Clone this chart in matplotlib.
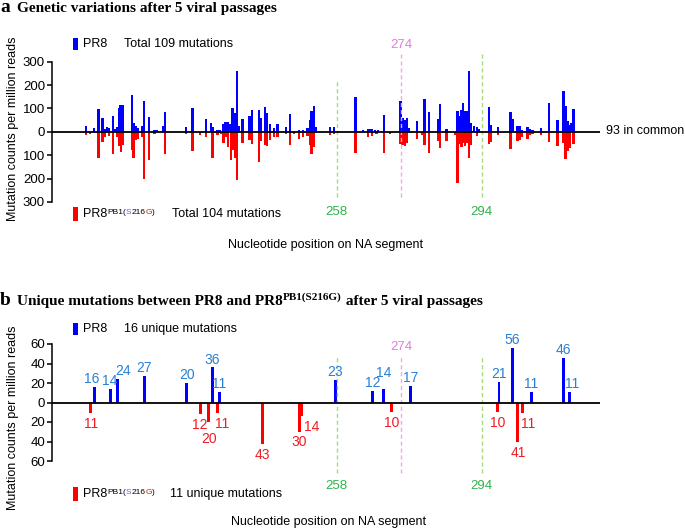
import numpy as np
import matplotlib
matplotlib.use('Agg')
import matplotlib.pyplot as plt
from matplotlib.patches import Rectangle

# ---- data: panel a (all mutations, counts per million reads) ----
A_BLUE_POS = [195.8, 197.7, 198.8, 199.8, 200.3, 200.9, 201.4, 202.4, 202.9, 203.4,
              203.9, 204.3, 204.8, 207.1, 207.6, 208.2, 208.7, 209.7, 210.2, 211.4,
              212.8, 213.3, 215.0, 215.4, 220.6, 222.2, 225.6, 226.8, 227.3, 228.4,
              228.9, 229.9, 230.4, 231.0, 231.6, 232.1, 232.6, 233.2, 233.7, 234.6,
              236.4, 237.0, 238.7, 239.2, 240.2, 240.7, 241.4, 242.4, 243.3, 245.4,
              246.4, 248.6, 249.6, 250.8, 251.4, 251.8, 252.3, 252.7, 256.3, 257.4,
              262.7, 264.6, 265.8, 266.3, 266.8, 267.5, 268.3, 269.7, 273.9, 274.4,
              274.9, 275.4, 276.0, 277.9, 279.8, 281.0, 283.2, 283.7, 285.3, 288.0,
              288.5, 289.0, 289.4, 289.9, 290.4, 290.9, 291.4, 292.1, 292.8, 293.3,
              295.9, 296.3, 298.1, 301.2, 301.7, 302.9, 303.5, 304.0, 305.4, 306.0,
              306.6, 308.7, 310.8, 312.8, 314.3, 314.8, 315.3, 315.8, 316.3, 316.8]
A_BLUE_VAL = [23, 16, 99, 59, 13, 20, 16, 69, 13, 21,
              101, 113, 116, 159, 37, 26, 16, 23, 130, 63,
              9, 9, 26, 84, 20, 104, 54, 36, 20, 10,
              10, 33, 40, 40, 34, 101, 80, 261, 26, 54,
              66, 94, 94, 59, 106, 80, 34, 16, 33, 20,
              76, 7, 6, 16, 51, 90, 109, 19, 20, 20,
              149, 6, 11, 13, 13, 10, 9, 70, 130, 59,
              49, 59, 16, 47, 141, 87, 56, 120, 11, 91,
              69, 94, 123, 91, 90, 259, 37, 23, 19, 14,
              106, 30, 20, 84, 54, 26, 26, 7, 20, 13,
              10, 16, 123, 51, 173, 111, 47, 30, 37, 99]

A_RED_POS = [195.8, 196.7, 198.8, 199.8, 200.3, 201.4, 202.4, 203.4, 203.9, 204.4,
             204.8, 207.1, 207.5, 208.2, 208.7, 209.7, 210.2, 211.4, 212.8, 215.4,
             220.6, 222.2, 224.0, 225.6, 227.2, 228.4, 229.4, 229.9, 230.4, 231.0,
             231.7, 232.2, 232.7, 233.2, 234.6, 236.4, 237.0, 238.7, 239.2, 240.2,
             240.7, 241.4, 242.4, 243.3, 245.4, 246.4, 247.4, 248.6, 249.6, 250.8,
             251.4, 251.8, 252.3, 256.3, 257.4, 262.7, 265.8, 266.8, 267.9, 269.7,
             271.2, 273.9, 274.4, 275.0, 275.4, 277.9, 279.3, 279.8, 281.0, 283.2,
             283.7, 285.3, 287.5, 288.0, 288.5, 289.0, 289.4, 289.9, 290.4, 290.9,
             291.4, 292.8, 295.9, 296.3, 298.1, 301.2, 302.9, 303.5, 304.0, 305.4,
             306.0, 306.6, 308.7, 310.8, 312.8, 314.3, 314.8, 315.3, 315.8, 316.8]
A_RED_VAL = [14, 10, 113, 44, 20, 17, 96, 20, 59, 87,
             56, 77, 113, 34, 31, 20, 203, 121, 9, 96,
             9, 84, 13, 24, 113, 13, 9, 49, 20, 63,
             120, 77, 113, 207, 49, 34, 53, 127, 41, 56,
             60, 34, 20, 24, 10, 56, 9, 30, 20, 17,
             56, 96, 63, 13, 9, 89, 24, 17, 9, 89,
             11, 53, 56, 60, 49, 31, 13, 56, 91, 41,
             70, 39, 13, 220, 53, 63, 49, 59, 49, 110,
             56, 17, 53, 44, 13, 74, 41, 34, 20, 31,
             13, 9, 13, 44, 59, 49, 117, 84, 70, 53]

# ---- data: panel b (unique mutations) ----
B_BLUE_POS = [197.9, 201.9, 203.6, 210.2, 220.8, 227.1, 228.8, 257.7,
              267.0, 269.6, 276.3, 298.3, 301.7, 306.3, 314.3, 315.9]
B_BLUE_VAL = [16, 14, 24, 27, 20, 36, 11, 23, 12, 14, 17, 21, 56, 11, 46, 11]
B_RED_POS = [196.9, 224.1, 226.2, 228.4, 239.6, 248.8, 249.4, 271.6, 298.0, 303.0, 304.1]
B_RED_VAL = [11, 12, 20, 11, 43, 30, 14, 10, 10, 41, 11]

MARKS_GREEN = [258, 294]
MARK_PINK = 274

# label nudges (points) to keep the numbers in panel b apart
BLUE_NUDGE = {0: (-2.5, 0), 1: (-1, 0), 2: (4, 0), 9: (0, 6), 15: (2, 0)}
RED_NUDGE = {2: (0, -4.5), 3: (3, 0), 6: (7, 0), 10: (4, 0)}

W, H = 685, 530
BLUE = '#0000ff'
RED = '#ff0000'
LBL_BLUE = '#2a7fd4'
LBL_RED = '#ee1c25'
GREEN_LINE = '#a8dc78'
GREEN_TXT = '#2fb34f'
PINK_LINE = '#f2a6ee'
PINK_TXT = '#e07fe0'
SANS = 'Liberation Sans'
SERIF = 'Liberation Serif'

plt.rcParams['font.family'] = SANS


def fx(px):
    return px / W


def fy(py):
    return 1 - py / H


def chain(ax, x, y, pieces, family=SANS, weight='normal'):
    """draw text pieces one after another; pieces = (text, size, colour, rise)"""
    base = ax.annotate(pieces[0][0], xy=(fx(x), fy(y)), xycoords='figure fraction',
                       fontsize=pieces[0][1], color=pieces[0][2], family=family,
                       weight=weight, va='center', ha='left', annotation_clip=False)
    prev = base
    for txt, size, color, rise in pieces[1:]:
        prev = ax.annotate(txt, xy=(1, rise), xycoords=(prev, base), fontsize=size,
                           color=color, family=family, weight=weight,
                           va='bottom', ha='left', annotation_clip=False)
    return base


def legend_bar(fig, x, y0, y1, color):
    fig.add_artist(Rectangle((fx(x), fy(y1)), 4.5 / W, (y1 - y0) / H,
                             transform=fig.transFigure, color=color, lw=0))


def style_axis(ax, lim, step):
    ax.set_ylim(-lim, lim)
    ax.set_xlim(187.3, 323.4)
    for s in ['top', 'right', 'bottom']:
        ax.spines[s].set_visible(False)
    ax.spines['left'].set_linewidth(1.1)
    ax.spines['left'].set_bounds(-lim, lim)
    ticks = np.arange(-lim, lim + step, step)
    ax.set_yticks(ticks)
    ax.set_yticklabels([str(abs(int(t))) for t in ticks])
    ax.tick_params(axis='y', length=3.5, width=1.1, pad=1.5, labelsize=9.5)
    ax.set_xticks([])
    ax.axhline(0, color='black', lw=1.3, zorder=3)
    ax.patch.set_alpha(0)


def pb1_label(ax, x, y, size=9):
    chain(ax, x, y, [('PR8', size, 'black', 0),
                     ('PB1(', 6, 'black', 0.3),
                     ('S', 6, '#5060ff', 0.3),
                     ('216', 6, 'black', 0.3),
                     ('G', 6, RED, 0.3),
                     (')', 6, 'black', 0.3)])


fig = plt.figure(figsize=(W / 100, H / 100), dpi=100)

# ================= panel a =================
ax_a = fig.add_axes([fx(52), fy(202), fx(600) - fx(52), (202 - 61.7) / H])
style_axis(ax_a, 300, 100)
ax_a.bar(A_BLUE_POS, A_BLUE_VAL, width=0.6, color=BLUE, lw=0)
ax_a.bar(A_RED_POS, -np.array(A_RED_VAL), width=0.6, color=RED, lw=0)

for m, top in zip(MARKS_GREEN, [218, 335]):
    ax_a.plot([m, m], [-279, top], color=GREEN_LINE, lw=1, ls=(0, (3, 2)), clip_on=False)
    ax_a.annotate(str(m), xy=(m, -279), xytext=(0, -6.5), textcoords='offset points',
                  ha='center', va='top', color=GREEN_TXT, fontsize=9.5, annotation_clip=False)
ax_a.plot([MARK_PINK] * 2, [-279, 335], color=PINK_LINE, lw=1, ls=(0, (3, 2)), clip_on=False)
ax_a.annotate(str(MARK_PINK), xy=(MARK_PINK, 335), xytext=(0, 2), textcoords='offset points',
              ha='center', va='bottom', color=PINK_TXT, fontsize=9.5, annotation_clip=False)

fig.text(fx(606), fy(131), '93 in common', fontsize=9, va='center', ha='left')

fig.text(fx(0), fy(12), 'a', fontsize=14, weight='bold', family=SERIF, va='baseline')
fig.text(fx(17), fy(12), 'Genetic variations after 5 viral passages', fontsize=11,
         weight='bold', family=SERIF, va='baseline')

legend_bar(fig, 73, 38, 50, BLUE)
fig.text(fx(83), fy(44), 'PR8', fontsize=9, va='center')
fig.text(fx(124), fy(44), 'Total 109 mutations', fontsize=9, va='center')
legend_bar(fig, 73, 207, 221, RED)
pb1_label(ax_a, 83, 214)
fig.text(fx(172), fy(214), 'Total 104 mutations', fontsize=9, va='center')

fig.text(fx(326), fy(245), 'Nucleotide position on NA segment', fontsize=9,
         ha='center', va='center')
fig.text(fx(13), fy(129), 'Mutation counts per million reads', fontsize=9,
         rotation=90, ha='center', va='center')

# ================= panel b =================
ax_b = fig.add_axes([fx(52), fy(461), fx(600) - fx(52), (461 - 344) / H])
style_axis(ax_b, 60, 20)
ax_b.bar(B_BLUE_POS, B_BLUE_VAL, width=0.7, color=BLUE, lw=0)
ax_b.bar(B_RED_POS, -np.array(B_RED_VAL), width=0.7, color=RED, lw=0)

for i, (p, v) in enumerate(zip(B_BLUE_POS, B_BLUE_VAL)):
    dx, dy = BLUE_NUDGE.get(i, (0, 0))
    ax_b.annotate(str(v), xy=(p, v), xytext=(dx, 0.5 + dy), textcoords='offset points',
                  ha='center', va='bottom', color=LBL_BLUE, fontsize=10)
for i, (p, v) in enumerate(zip(B_RED_POS, B_RED_VAL)):
    dx, dy = RED_NUDGE.get(i, (0, 0))
    ax_b.annotate(str(v), xy=(p, -v), xytext=(dx, -2.5 + dy), textcoords='offset points',
                  ha='center', va='top', color=LBL_RED, fontsize=10)

for m in MARKS_GREEN:
    ax_b.plot([m, m], [-72, 49], color=GREEN_LINE, lw=1, ls=(0, (3, 2)), clip_on=False)
    ax_b.annotate(str(m), xy=(m, -72), xytext=(0, -5), textcoords='offset points',
                  ha='center', va='top', color=GREEN_TXT, fontsize=9.5, annotation_clip=False)
ax_b.plot([MARK_PINK] * 2, [-72, 49], color=PINK_LINE, lw=1, ls=(0, (3, 2)), clip_on=False)
ax_b.annotate(str(MARK_PINK), xy=(MARK_PINK, 49), xytext=(0, 1), textcoords='offset points',
              ha='center', va='bottom', color=PINK_TXT, fontsize=9.5, annotation_clip=False)

fig.text(fx(0), fy(305), 'b', fontsize=14, weight='bold', family=SERIF, va='baseline')
chain(ax_b, 17, 301, [('Unique mutations between PR8 and PR8', 11, 'black', 0),
                      ('PB1(S216G)', 8, 'black', 0.42),
                      (' after 5 viral passages', 11, 'black', 0)],
      family=SERIF, weight='bold')

legend_bar(fig, 73, 323, 335, BLUE)
fig.text(fx(83), fy(329), 'PR8', fontsize=9, va='center')
fig.text(fx(124.5), fy(329), '16 unique mutations', fontsize=9, va='center')
legend_bar(fig, 73, 487, 501, RED)
pb1_label(ax_b, 83, 494)
fig.text(fx(170), fy(494), '11 unique mutations', fontsize=9, va='center')

fig.text(fx(328.5), fy(522), 'Nucleotide position on NA segment', fontsize=9,
         ha='center', va='center')
fig.text(fx(13), fy(417.5), 'Mutation counts per million reads', fontsize=9,
         rotation=90, ha='center', va='center')

fig.savefig('out.png', dpi=100)
